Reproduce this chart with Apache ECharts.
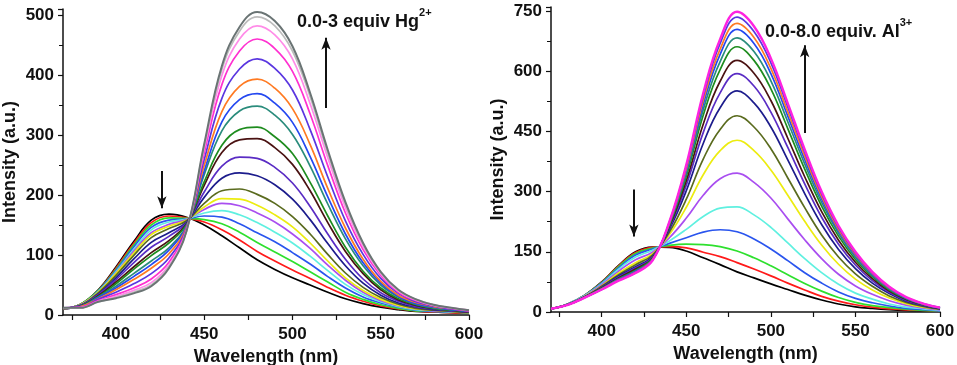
<!DOCTYPE html>
<html>
<head>
<meta charset="utf-8">
<script src="https://cdn.jsdelivr.net/npm/echarts@6/dist/echarts.min.js"></script>
<style>
  html, body { margin: 0; padding: 0; background: #fff; }
  #chart { width: 957px; height: 365px; }
</style>
</head>
<body>
<div id="chart"></div>
<script>
// wavelength grid shared by both panels (nm)
const wavelength = [370, 380, 390, 400, 410, 420, 430, 440, 450, 460, 470, 480,
  490, 500, 510, 520, 530, 540, 550, 560, 570, 580, 590, 600];

// left panel: 0.0-3 equiv Hg2+
const hgBlack   = [10,18,42,80,122,158,168,163,150,132,112,92,76,62,50,38,27,19,13,9,6,5,4,3];
const hgRed     = [10,18,41,78,119,154,165,162,155,142,125,106,90,75,61,46,33,23,15,10,7,5,4,3];
const hgGreen   = [10,18,41,76,116,150,162,161,159,152,138,121,105,89,72,55,38,26,17,11,7,6,5,3];
const hgBlue    = [10,17,40,74,113,146,158,160,165,163,152,137,122,104,85,64,45,30,20,13,8,6,5,4];
const hgCyan    = [10,17,39,72,109,142,155,160,170,174,167,154,138,120,98,74,51,34,22,14,9,7,5,4];
const hgViolet  = [10,17,38,70,106,137,151,159,176,186,182,170,155,135,111,83,58,38,24,15,10,7,6,4];
const hgYellow  = [10,17,38,69,103,134,148,158,180,194,193,183,167,147,120,90,62,41,26,16,10,8,6,4];
const hgOlive   = [11,16,37,66,99,129,144,157,186,207,210,201,186,164,135,101,70,46,29,18,11,8,6,4];
const hgNavy    = [11,16,35,62,93,121,137,155,196,228,237,232,217,193,159,119,82,53,33,20,13,9,7,5];
const hgPurple  = [11,16,34,59,87,113,131,154,205,248,263,261,246,220,181,135,93,60,37,23,14,10,7,5];
const hgBrown   = [11,15,32,55,80,104,124,152,216,271,292,294,279,251,207,154,106,69,42,25,16,11,8,5];
const hgGreen2  = [11,15,31,52,76,99,120,151,222,283,309,313,297,269,221,165,113,73,45,27,17,11,8,6];
const hgTeal    = [11,14,30,48,69,90,112,149,234,307,340,348,333,301,248,185,127,82,50,30,18,12,9,6];
const hgBlue2   = [11,14,29,45,64,84,108,148,240,322,359,369,353,321,264,197,135,87,53,31,19,13,9,6];
const hgOrange  = [11,14,27,42,59,78,102,146,249,339,381,393,378,344,284,211,145,93,56,33,21,14,10,7];
const hgIndigo  = [12,13,26,38,52,69,95,144,259,361,410,427,411,375,309,230,157,101,61,36,22,15,10,7];
const hgMagenta = [12,13,24,34,45,60,88,143,270,384,440,460,444,406,335,249,170,109,66,38,24,16,11,7];
const hgPink    = [12,12,23,31,41,54,83,141,278,399,460,482,467,427,352,262,179,114,69,40,25,16,12,8];
const hgSilver  = [12,12,22,29,38,50,80,140,282,409,473,497,482,440,364,270,185,118,71,41,26,17,12,8];
const hgGray    = [12,12,22,28,36,48,78,140,285,415,480,505,490,448,370,275,188,120,72,42,26,17,12,8];

// right panel: 0.0-8.0 equiv. Al3+
const alBlack   = [8,20,42,75,116,150,162,161,152,135,118,100,85,70,56,42,30,20,13,9,6,4,3,2];
const alRed     = [8,20,42,74,115,148,161,163,160,149,138,123,107,90,72,55,39,27,18,12,8,5,4,2];
const alGreen   = [8,20,42,73,113,146,159,166,169,168,163,152,135,115,93,71,52,36,24,16,11,7,4,3];
const alBlue    = [8,20,41,72,110,142,157,171,185,199,205,200,182,157,128,98,72,50,34,23,15,9,6,3];
const alCyan    = [8,20,41,70,107,137,154,177,206,238,259,262,242,211,172,133,98,69,47,32,20,12,8,4];
const alViolet  = [8,19,40,68,102,130,149,185,234,291,332,346,323,284,232,180,133,94,65,44,28,17,10,5];
const alYellow  = [8,19,39,65,97,123,145,193,261,342,402,428,402,354,291,226,167,119,82,55,35,21,12,7];
const alOlive   = [8,19,38,64,93,118,142,199,281,381,455,489,461,407,334,260,192,137,95,64,40,24,14,7];
const alNavy    = [8,19,38,62,90,113,138,206,302,420,509,551,521,461,379,295,218,156,108,72,46,27,16,8];
const alPurple  = [8,18,37,61,87,110,136,210,316,447,546,594,563,498,410,319,236,169,117,78,49,29,17,9];
const alBrown   = [8,18,37,60,85,107,134,213,327,468,575,627,595,527,433,337,250,179,124,83,52,31,18,9];
const alGreen2  = [8,18,37,59,83,104,133,216,338,490,604,661,627,556,457,356,264,189,131,88,55,33,19,10];
const alTeal    = [8,18,37,58,82,102,131,219,346,504,624,683,649,576,474,369,273,196,136,91,57,34,19,10];
const alBlue2   = [8,18,36,57,81,101,130,221,352,517,642,704,669,594,488,380,282,202,141,94,59,35,20,10];
const alOrange  = [8,18,36,57,80,99,130,222,357,527,655,719,684,607,499,389,288,206,144,96,60,36,20,11];
const alIndigo  = [8,18,36,56,79,98,129,224,363,537,669,735,699,621,511,398,295,211,147,98,62,36,21,11];
const alMagenta = [8,18,36,56,78,97,128,225,367,545,680,748,712,632,520,405,300,215,150,100,63,37,21,11];

const hgCurves = [hgBlack, hgRed, hgGreen, hgBlue, hgCyan, hgViolet, hgYellow, hgOlive, hgNavy,
  hgPurple, hgBrown, hgGreen2, hgTeal, hgBlue2, hgOrange, hgIndigo, hgMagenta, hgPink, hgSilver, hgGray];
const hgColors = ['#000000', '#ff1a1a', '#2ee02e', '#2a55ee', '#5ff0e0', '#a94ef0', '#ecec10', '#5a6b1e',
  '#1c1c8c', '#5a2cc4', '#4a1212', '#1e8c1e', '#2a8c7c', '#2448f0', '#ff7a22', '#5a36e0',
  '#ff30d0', '#ff8ce8', '#bcbcbc', '#6a7474'];

const alCurves = [alBlack, alRed, alGreen, alBlue, alCyan, alViolet, alYellow, alOlive, alNavy,
  alPurple, alBrown, alGreen2, alTeal, alBlue2, alOrange, alIndigo, alMagenta];
const alColors = ['#000000', '#ff1a1a', '#2ee02e', '#2a55ee', '#5ff0e0', '#a94ef0', '#ecec10', '#5a6b1e',
  '#1c1c8c', '#5a2cc4', '#4a1212', '#1e8c1e', '#2a8c7c', '#2448f0', '#ff7a22', '#5a36e0', '#ff22e0'];

const xLabels = [400, 450, 500, 550, 600];
const xTicks = [375, 400, 425, 450, 475, 500, 525, 550, 575, 600];

const FONT = '"Liberation Sans", Arial, sans-serif';
const INK = '#111';

function xAxisFor(gridIndex) {
  return {
    type: 'value', gridIndex, min: 370, max: 600,
    name: 'Wavelength (nm)', nameLocation: 'middle', nameGap: 27,
    nameTextStyle: { fontFamily: FONT, fontWeight: 'bold', fontSize: 18, color: INK },
    axisLine: { show: true, onZero: false, lineStyle: { color: INK, width: 1.5 } },
    axisTick: { show: true, customValues: xTicks, length: 5, lineStyle: { color: INK, width: 1.2 } },
    axisLabel: { customValues: xLabels, margin: 11, fontFamily: FONT, fontWeight: 'bold', fontSize: 17, color: INK },
    splitLine: { show: false }
  };
}

function yAxisFor(gridIndex, max, interval) {
  return {
    type: 'value', gridIndex, min: 0, max, interval,
    name: 'Intensity (a.u.)', nameLocation: 'middle', nameGap: 44,
    nameTextStyle: { fontFamily: FONT, fontWeight: 'bold', fontSize: 18, color: INK },
    axisLine: { show: true, lineStyle: { color: INK, width: 1.5 } },
    axisTick: { show: true, length: 5, lineStyle: { color: INK, width: 1.2 } },
    minorTick: { show: true, splitNumber: 2, length: 4, lineStyle: { color: INK, width: 1 } },
    axisLabel: { showMaxLabel: false, margin: 9, fontFamily: FONT, fontWeight: 'bold', fontSize: 17, color: INK },
    splitLine: { show: false },
    minorSplitLine: { show: false }
  };
}

function curveSeries(values, color, idx, width) {
  return {
    type: 'line', xAxisIndex: idx, yAxisIndex: idx,
    data: wavelength.map((w, i) => [w, values[i]]),
    smooth: 0.4, showSymbol: false, silent: true,
    lineStyle: { color, width },
    itemStyle: { color }
  };
}

function arrows(list) {
  return {
    silent: true, symbol: ['none', 'arrow'], symbolSize: [7, 12],
    label: { show: false },
    lineStyle: { color: INK, width: 2, type: 'solid' },
    data: list.map(a => [{ coord: a[0] }, { coord: a[1] }])
  };
}

function annotation(left, top, main, sup) {
  return {
    type: 'text', left, top, silent: true,
    style: {
      text: '{m|' + main + '}{s|' + sup + '}',
      rich: {
        m: { fontFamily: FONT, fontWeight: 'bold', fontSize: 18, fill: INK, lineHeight: 24, verticalAlign: 'bottom' },
        s: { fontFamily: FONT, fontWeight: 'bold', fontSize: 11, fill: INK, lineHeight: 12, verticalAlign: 'top' }
      }
    }
  };
}

// arrow end points in data units [wavelength, intensity]
const hgArrows = [[[519, 345], [519, 462]], [[426, 240], [426, 178]]];
const alArrows = [[[520, 446], [520, 665]], [[419, 305], [419, 188]]];

const series = [];
hgCurves.forEach((v, i) => series.push(curveSeries(v, hgColors[i], 0, i === hgCurves.length - 1 ? 2 : 1.7)));
alCurves.forEach((v, i) => series.push(curveSeries(v, alColors[i], 1, i === alCurves.length - 1 ? 2.4 : 1.7)));
series[hgCurves.length - 1].markLine = arrows(hgArrows);
series[series.length - 1].markLine = arrows(alArrows);

const chart = echarts.init(document.getElementById('chart'));
chart.setOption({
  animation: false,
  backgroundColor: '#fff',
  grid: [
    { left: 63, top: 9, width: 406, height: 306, containLabel: false, outerBoundsMode: 'none' },
    { left: 551, top: 7, width: 389, height: 305, containLabel: false, outerBoundsMode: 'none' }
  ],
  xAxis: [xAxisFor(0), xAxisFor(1)],
  yAxis: [yAxisFor(0, 510, 100), yAxisFor(1, 760, 150)],
  series,
  graphic: [
    annotation(297, 7, '0.0-3 equiv Hg', '2+'),
    annotation(765, 17, '0.0-8.0 equiv. Al', '3+')
  ]
});
</script>
</body>
</html>
